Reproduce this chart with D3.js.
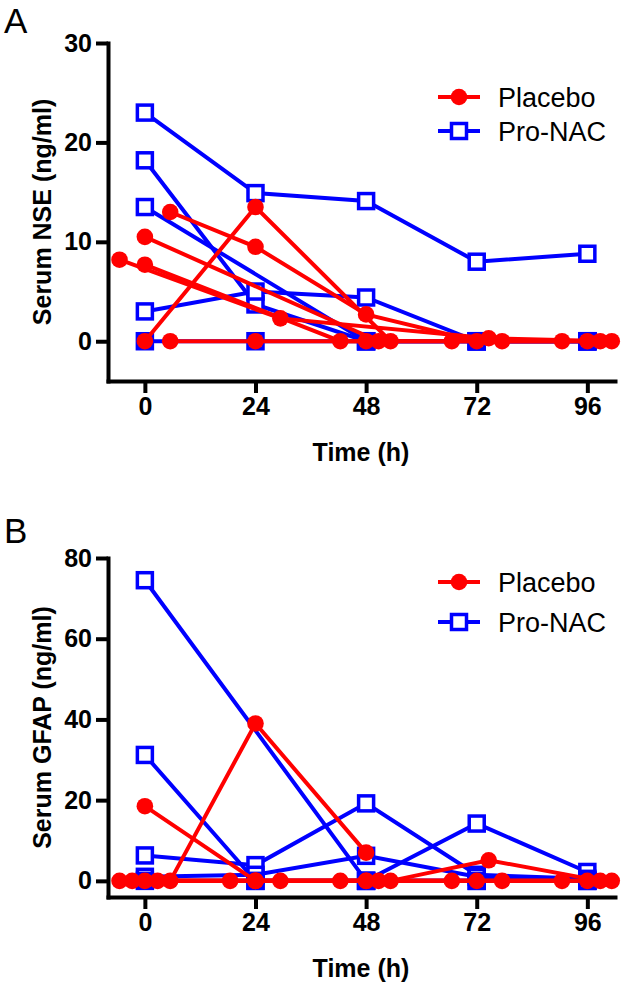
<!DOCTYPE html>
<html>
<head>
<meta charset="utf-8">
<script src="https://cdn.jsdelivr.net/npm/d3@7"></script>
<style>
  html, body { margin: 0; padding: 0; background: #fff; }
  svg { display: block; }
</style>
</head>
<body>
<svg id="chart" width="625" height="987"></svg>
<script>
// ---- Data (time in h, value in ng/ml) ----
const timeTicks = [0, 24, 48, 72, 96];
const nseTicks = [0, 10, 20, 30];
const gfapTicks = [0, 20, 40, 60, 80];
const seriesNames = ["Placebo", "Pro-NAC"];

// Panel A: Serum NSE
const nsePlacebo = [
  [[-5.5, 8.2], [29.4, 2.3], [74.6, 0.3], [101.3, 0]],
  [[0, 7.7], [42.4, 0], [66.6, 0], [90.5, 0]],
  [[0, 10.5], [50.7, 0], [77.5, 0], [98.8, 0]],
  [[5.5, 13.0], [24, 9.5], [48, 2.7], [72, 0], [96, 0]],
  [[0, 0], [24, 13.5], [53.3, 0]],
  [[5.5, 0], [24, 0], [48, 0]]
];
const nseProNAC = [
  [[0, 23.0], [24, 14.9], [48, 14.1], [72, 8.0], [96, 8.8]],
  [[0, 18.2], [24, 3.7], [48, 0], [72, 0], [96, 0]],
  [[0, 13.5], [48, 0], [72, 0], [96, 0]],
  [[0, 3.0], [24, 5.0], [48, 4.4], [72, 0], [96, 0]],
  [[0, 0], [24, 0], [48, 0], [72, 0], [96, 0]]
];

// Panel B: Serum GFAP
const gfapPlacebo = [
  [[-5.5, 0], [18.5, 0], [42.4, 0], [66.6, 0], [90.5, 0]],
  [[-2.75, 0], [24, 0], [53.3, 0], [74.6, 5.1], [98.8, 0]],
  [[0, 18.5], [24, 0], [48, 0], [77.5, 0], [101.3, 0]],
  [[0, 0], [29.4, 0], [50.7, 0], [72, 0], [96, 0]],
  [[2.75, 0], [24, 0], [48, 0]],
  [[5.5, 0], [24, 39.0], [48, 7.0]]
];
const gfapProNAC = [
  [[0, 74.5], [48, 0], [72, 0], [96, 0]],
  [[0, 31.2], [24, 0], [48, 0], [72, 14.2], [96, 2.2]],
  [[0, 6.3], [24, 3.9], [48, 19.2], [72, 1.5], [96, 0.5]],
  [[0, 1.0], [24, 1.5], [48, 6.2], [72, 1.0], [96, 0]],
  [[0, 0], [24, 0], [48, 0], [72, 0], [96, 0]]
];

// ---- Drawing ----
const RED = "#ff0000", BLUE = "#0000ff";
const svg = d3.select("#chart");
const tickFont = "'Liberation Sans', Arial, Helvetica, sans-serif";

function panel(opts) {
  const x = d3.scaleLinear().domain([-8, 102]).range([108, 615]);
  const y = d3.scaleLinear().domain(opts.yDomain).range([opts.bottom, opts.top]);
  const g = svg.append("g");

  // axes
  const yAxis = d3.axisLeft(y).tickValues(opts.yTicks).tickSize(12).tickSizeOuter(0).tickPadding(4);
  const gy = g.append("g").attr("transform", "translate(108,0)").call(yAxis);
  const xAxis = d3.axisBottom(x).tickValues(timeTicks).tickSize(12).tickSizeOuter(0).tickPadding(4);
  const gx = g.append("g").attr("transform", `translate(0,${opts.bottom})`).call(xAxis);
  [gx, gy].forEach(a => {
    a.select(".domain").attr("stroke", "#000").attr("stroke-width", 4).attr("stroke-linecap", "square");
    a.selectAll(".tick line").attr("stroke", "#000").attr("stroke-width", 4);
    a.selectAll(".tick text").attr("fill", "#000")
      .style("font-family", tickFont).style("font-weight", "bold").style("font-size", "25px");
  });

  // titles
  g.append("text").attr("x", 361).attr("y", opts.bottom + 80)
    .attr("text-anchor", "middle")
    .style("font-family", tickFont).style("font-weight", "bold").style("font-size", "25px")
    .text("Time (h)");
  g.append("text")
    .attr("transform", `translate(51,${(opts.top + opts.bottom) / 2}) rotate(-90)`)
    .attr("text-anchor", "middle")
    .style("font-family", tickFont).style("font-weight", "bold").style("font-size", "25px")
    .text(opts.yLabel);
  g.append("text").attr("x", 4).attr("y", opts.letterY)
    .style("font-family", tickFont).style("font-size", "35px")
    .text(opts.letter);

  const line = d3.line().x(d => x(d[0])).y(d => y(d[1]));

  // Pro-NAC (blue, drawn first)
  const gb = g.append("g");
  gb.selectAll("path").data(opts.pro).join("path")
    .attr("d", line).attr("fill", "none").attr("stroke", BLUE).attr("stroke-width", 4);
  gb.selectAll("rect").data(opts.pro.flat()).join("rect")
    .attr("x", d => x(d[0]) - 7.5).attr("y", d => y(d[1]) - 7.5)
    .attr("width", 15).attr("height", 15)
    .attr("fill", "#fff").attr("stroke", BLUE).attr("stroke-width", 3.5);

  // Placebo (red)
  const gr = g.append("g");
  gr.selectAll("path").data(opts.plc).join("path")
    .attr("d", line).attr("fill", "none").attr("stroke", RED).attr("stroke-width", 4);
  gr.selectAll("circle").data(opts.plc.flat()).join("circle")
    .attr("cx", d => x(d[0])).attr("cy", d => y(d[1])).attr("r", 8.3)
    .attr("fill", RED);

  // legend
  const lg = g.append("g");
  const ly = opts.legendY;
  seriesNames.forEach((name, i) => {
    const yy = ly + i * opts.legendGap;
    const col = i === 0 ? RED : BLUE;
    lg.append("line").attr("x1", 438).attr("x2", 480).attr("y1", yy).attr("y2", yy)
      .attr("stroke", col).attr("stroke-width", 4);
    if (i === 0) {
      lg.append("circle").attr("cx", 459).attr("cy", yy).attr("r", 8.3).attr("fill", RED);
    } else {
      lg.append("rect").attr("x", 459 - 7.5).attr("y", yy - 7.5).attr("width", 15).attr("height", 15)
        .attr("fill", "#fff").attr("stroke", BLUE).attr("stroke-width", 3.5);
    }
    lg.append("text").attr("x", 498).attr("y", yy).attr("dy", "0.36em")
      .style("font-family", tickFont).style("font-size", "27px")
      .text(name);
  });
}

panel({
  yDomain: [-4, 30], top: 43, bottom: 381, yTicks: nseTicks,
  yLabel: "Serum NSE (ng/ml)", letter: "A", letterY: 33,
  pro: nseProNAC, plc: nsePlacebo, legendY: 97, legendGap: 34
});
panel({
  yDomain: [-4, 80], top: 558, bottom: 897, yTicks: gfapTicks,
  yLabel: "Serum GFAP (ng/ml)", letter: "B", letterY: 543,
  pro: gfapProNAC, plc: gfapPlacebo, legendY: 582, legendGap: 40
});
</script>
</body>
</html>
